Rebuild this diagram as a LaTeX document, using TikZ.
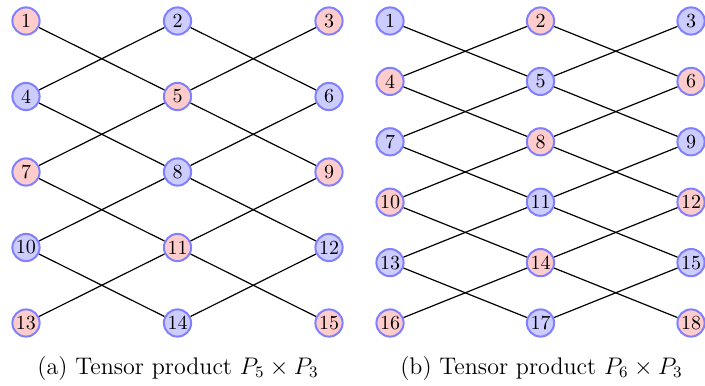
\documentclass[tikz,border=0pt]{standalone}
\begin{document}
\begin{tikzpicture}[x=0.5pt,y=-0.5pt,
  vtx/.style={circle,draw=blue!50,line width=1pt,inner sep=0pt,minimum size=13.6pt,font=\normalsize},
  pk/.style={vtx,fill=red!20},
  bl/.style={vtx,fill=blue!20},
  edge/.style={line width=0.6pt,black},
  captext/.style={anchor=base,font=\large}]
\useasboundingbox (0,0) rectangle (705,385);
% left graph P5 x P3
\foreach \r in {1,...,5}{
  \foreach \c in {1,2,3}{
    \pgfmathtruncatemacro{\lab}{3*(\r-1)+\c}
    \pgfmathsetmacro{\xx}{26+151.5*(\c-1)}
    \pgfmathsetmacro{\yy}{21+75.5*(\r-1)}
    \ifodd\lab
      \node[pk] (a\lab) at (\xx,\yy) {\lab};
    \else
      \node[bl] (a\lab) at (\xx,\yy) {\lab};
    \fi
  }
}
\foreach \r in {1,...,4}{
  \foreach \c in {1,2}{
    \pgfmathtruncatemacro{\p}{3*(\r-1)+\c}
    \pgfmathtruncatemacro{\q}{3*\r+\c+1}
    \pgfmathtruncatemacro{\s}{3*(\r-1)+\c+1}
    \pgfmathtruncatemacro{\t}{3*\r+\c}
    \draw[edge] (a\p) -- (a\q);
    \draw[edge] (a\s) -- (a\t);
  }
}
% right graph P6 x P3
\foreach \r in {1,...,6}{
  \foreach \c in {1,2,3}{
    \pgfmathtruncatemacro{\lab}{3*(\r-1)+\c}
    \pgfmathsetmacro{\xx}{390+150.5*(\c-1)}
    \pgfmathsetmacro{\yy}{21+60.4*(\r-1)}
    \ifodd\lab
      \node[bl] (b\lab) at (\xx,\yy) {\lab};
    \else
      \node[pk] (b\lab) at (\xx,\yy) {\lab};
    \fi
  }
}
\foreach \r in {1,...,5}{
  \foreach \c in {1,2}{
    \pgfmathtruncatemacro{\p}{3*(\r-1)+\c}
    \pgfmathtruncatemacro{\q}{3*\r+\c+1}
    \pgfmathtruncatemacro{\s}{3*(\r-1)+\c+1}
    \pgfmathtruncatemacro{\t}{3*\r+\c}
    \draw[edge] (b\p) -- (b\q);
    \draw[edge] (b\s) -- (b\t);
  }
}
\node[captext] (capa) at (178,374) {(a) Tensor product $P_5\times P_3$};
\node[captext] (capb) at (541.5,374) {(b) Tensor product $P_6\times P_3$};
\end{tikzpicture}
\end{document}
